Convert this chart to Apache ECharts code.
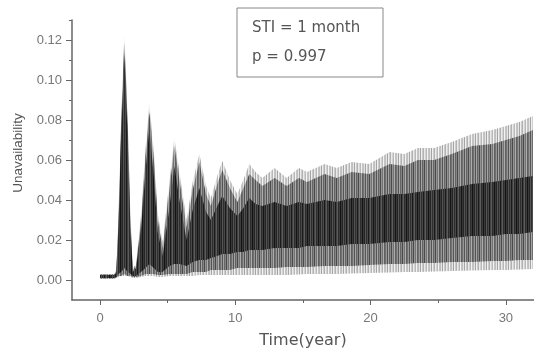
<!DOCTYPE html>
<html>
<head>
<meta charset="utf-8">
<script src="https://cdn.jsdelivr.net/npm/echarts@6/dist/echarts.min.js"></script>
<style>
  html, body { margin: 0; background: #fff; }
  #chart { width: 534px; height: 354px; }
</style>
</head>
<body>
<div id="chart"></div>
<script>
const times = [0, 1.05, 1.2, 1.37, 1.56, 1.8, 2.05, 2.25, 2.42, 2.67,
  3.04, 3.36, 3.65, 3.97, 4.27, 4.63, 5.13, 5.5, 5.87, 6.4,
  6.85, 7.34, 7.84, 8.2, 8.67, 9.04, 9.6, 10.15, 10.6, 11.03,
  11.5, 12.0, 12.9, 13.8, 14.7, 15.3, 16.6, 17.5, 18.6, 19.9,
  21.4, 22.5, 23.5, 24.7, 26, 27.5, 29, 30, 31, 32];

// outer edge of the oscillation band
const upper = [0.003, 0.003, 0.005, 0.033, 0.081, 0.123, 0.081, 0.033, 0.006, 0.008,
  0.033, 0.065, 0.088, 0.065, 0.033, 0.019, 0.049, 0.071, 0.054, 0.030,
  0.049, 0.063, 0.047, 0.041, 0.052, 0.0595, 0.050, 0.043, 0.050, 0.058,
  0.054, 0.051, 0.056, 0.051, 0.056, 0.054, 0.058, 0.056, 0.059, 0.058,
  0.064, 0.063, 0.066, 0.066, 0.069, 0.073, 0.075, 0.077, 0.079, 0.082];
const lower = [0.0006, 0.0006, 0.001, 0.0015, 0.002, 0.002, 0.002, 0.0015, 0.001, 0.001,
  0.0015, 0.002, 0.002, 0.002, 0.0015, 0.0015, 0.002, 0.002, 0.002, 0.002,
  0.002, 0.0025, 0.0025, 0.0025, 0.0025, 0.0025, 0.0025, 0.0025, 0.0025, 0.0025,
  0.0025, 0.0025, 0.0025, 0.0025, 0.0028, 0.003, 0.003, 0.003, 0.0032, 0.0035,
  0.0037, 0.004, 0.004, 0.0042, 0.0045, 0.0047, 0.005, 0.005, 0.0052, 0.0055];

// where the lines are dense (mid grey)
const bodyLo = [0.0008, 0.0008, 0.0012, 0.002, 0.002, 0.003, 0.002, 0.002, 0.0015, 0.0015,
  0.002, 0.003, 0.003, 0.003, 0.0025, 0.0025, 0.003, 0.003, 0.003, 0.003,
  0.004, 0.004, 0.004, 0.005, 0.005, 0.005, 0.005, 0.006, 0.006, 0.006,
  0.006, 0.006, 0.006, 0.0065, 0.0065, 0.0065, 0.007, 0.007, 0.007, 0.0075,
  0.008, 0.008, 0.0085, 0.0085, 0.009, 0.009, 0.0095, 0.0095, 0.010, 0.010];
const bodyHi = [0.0028, 0.0028, 0.004, 0.030, 0.077, 0.119, 0.077, 0.030, 0.005, 0.007,
  0.030, 0.061, 0.084, 0.061, 0.030, 0.016, 0.045, 0.067, 0.050, 0.026,
  0.045, 0.059, 0.043, 0.037, 0.048, 0.055, 0.046, 0.039, 0.046, 0.053,
  0.050, 0.047, 0.051, 0.047, 0.051, 0.049, 0.053, 0.051, 0.054, 0.053,
  0.058, 0.057, 0.060, 0.060, 0.063, 0.067, 0.068, 0.070, 0.072, 0.075];

// darkest core of the band
const coreLo = [0.001, 0.001, 0.0015, 0.003, 0.004, 0.006, 0.004, 0.003, 0.002, 0.002,
  0.004, 0.006, 0.008, 0.006, 0.004, 0.004, 0.007, 0.008, 0.008, 0.007,
  0.009, 0.010, 0.010, 0.011, 0.012, 0.013, 0.013, 0.014, 0.014, 0.015,
  0.015, 0.015, 0.016, 0.016, 0.016, 0.017, 0.017, 0.017, 0.018, 0.018,
  0.019, 0.019, 0.020, 0.020, 0.021, 0.022, 0.022, 0.023, 0.023, 0.024];
const coreHi = [0.0025, 0.0025, 0.0035, 0.027, 0.072, 0.113, 0.070, 0.026, 0.004, 0.006,
  0.026, 0.054, 0.076, 0.052, 0.024, 0.012, 0.036, 0.057, 0.040, 0.020,
  0.035, 0.046, 0.034, 0.030, 0.037, 0.042, 0.036, 0.032, 0.036, 0.041,
  0.038, 0.037, 0.039, 0.037, 0.039, 0.038, 0.040, 0.039, 0.041, 0.041,
  0.043, 0.043, 0.044, 0.045, 0.046, 0.048, 0.049, 0.050, 0.051, 0.052];

const xTicks = [0, 10, 20, 30];
const xMinorTicks = [5, 15, 25];
const yTicks = [0, 0.02, 0.04, 0.06, 0.08, 0.10, 0.12];
const yMinorTicks = [0.01, 0.03, 0.05, 0.07, 0.09, 0.11, 0.13];

const axisColor = '#666';
const labelColor = '#777';

// vertical streak texture, one pixel column per shade
function streaks(shades) {
  const c = document.createElement('canvas');
  c.width = shades.length;
  c.height = 1;
  const ctx = c.getContext('2d');
  shades.forEach((s, i) => { ctx.fillStyle = s; ctx.fillRect(i, 0, 1, 1); });
  return { image: c, repeat: 'repeat' };
}
const fringeFill = streaks(['#c0c0c0', '#e6e6e6', '#a4a4a4', '#f0f0f0', '#cbcbcb', '#b2b2b2', '#eaeaea', '#d4d4d4', '#b8b8b8', '#f4f4f4', '#c4c4c4']);
const bodyFill = streaks(['#707070', '#959595', '#545454', '#a4a4a4', '#646464', '#848484', '#4a4a4a', '#939393', '#737373', '#adadad', '#606060']);
const coreFill = streaks(['#383838', '#242424', '#545454', '#2e2e2e', '#484848', '#1a1a1a', '#404040', '#5c5c5c', '#2c2c2c', '#3c3c3c', '#141414']);

// one filled polygon between lo and hi, placed through the axes with api.coord
function band(lo, hi, fill) {
  return {
    type: 'custom', silent: true, clip: true,
    data: [[times[0], lo[0]]],
    renderItem: (params, api) => {
      const pts = [];
      times.forEach((t, i) => pts.push(api.coord([t, hi[i]])));
      for (let i = times.length - 1; i >= 0; i--) pts.push(api.coord([times[i], lo[i]]));
      return {
        type: 'polygon',
        shape: { points: pts },
        style: { fill: fill, lineWidth: 0 }
      };
    }
  };
}

const chart = echarts.init(document.getElementById('chart'));
chart.setOption({
  animation: false,
  grid: { left: 72, right: 0, top: 20, height: 288 },
  xAxis: [
    {
      type: 'value', min: -2.07, max: 32.08,
      name: 'Time(year)', nameLocation: 'middle', nameGap: 33,
      nameTextStyle: { fontFamily: 'DejaVu Sans', fontSize: 16, color: '#555' },
      axisLine: { onZero: false, lineStyle: { color: axisColor, width: 1.5 } },
      axisTick: { customValues: xTicks, length: 5, lineStyle: { color: axisColor } },
      axisLabel: { customValues: xTicks, margin: 12, color: labelColor,
        fontFamily: 'Liberation Sans', fontSize: 13 },
      splitLine: { show: false }
    },
    {
      type: 'value', min: -2.07, max: 32.08, position: 'bottom',
      axisLine: { show: false, onZero: false },
      axisTick: { customValues: xMinorTicks, length: 3, lineStyle: { color: axisColor } },
      axisLabel: { show: false },
      splitLine: { show: false }
    }
  ],
  yAxis: [
    {
      type: 'value', min: -0.01, max: 0.13,
      axisLine: { show: true, onZero: false, lineStyle: { color: axisColor, width: 1.5 } },
      axisTick: { show: true, customValues: yTicks, length: 6, lineStyle: { color: axisColor } },
      axisLabel: { customValues: yTicks, margin: 10, color: labelColor,
        fontFamily: 'Liberation Sans', fontSize: 13,
        formatter: v => v.toFixed(2) },
      splitLine: { show: false }
    },
    {
      type: 'value', min: -0.01, max: 0.13, position: 'left',
      axisLine: { show: false, onZero: false },
      axisTick: { show: true, customValues: yMinorTicks, length: 3, lineStyle: { color: axisColor } },
      axisLabel: { show: false },
      splitLine: { show: false }
    }
  ],
  graphic: [
    {
      type: 'text', x: 18.5, y: 153, rotation: Math.PI / 2,
      style: { text: 'Unavailability', fontFamily: 'Liberation Sans', fontSize: 13.5,
        fill: '#555', align: 'center', verticalAlign: 'middle' }
    },
    {
      type: 'rect', shape: { x: 237, y: 8, width: 146, height: 69 },
      style: { fill: 'none', stroke: '#888', lineWidth: 1 }
    },
    {
      type: 'text', x: 252, y: 28,
      style: { text: 'STI = 1 month', fontFamily: 'DejaVu Sans', fontSize: 15,
        fill: '#555', verticalAlign: 'middle' }
    },
    {
      type: 'text', x: 252, y: 57,
      style: { text: 'p = 0.997', fontFamily: 'DejaVu Sans', fontSize: 15,
        fill: '#555', verticalAlign: 'middle' }
    }
  ],
  series: [
    band(lower, upper, fringeFill),
    band(bodyLo, bodyHi, bodyFill),
    band(coreLo, coreHi, coreFill)
  ]
});
</script>
</body>
</html>
